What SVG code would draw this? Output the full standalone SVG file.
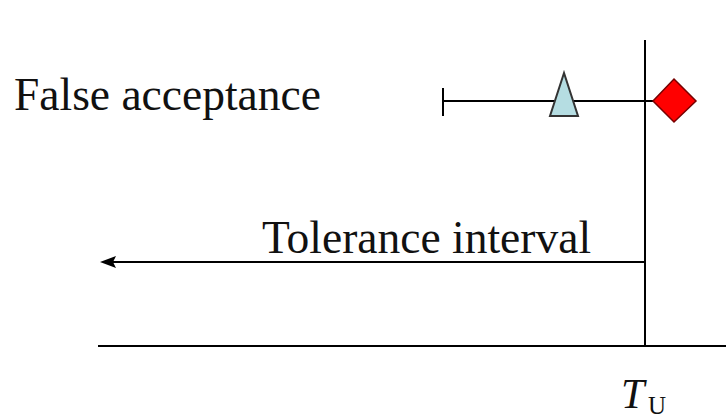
<svg xmlns="http://www.w3.org/2000/svg" width="726" height="419" viewBox="0 0 726 419">
<style>
.ln{stroke:#000;stroke-width:2;fill:none}
.t{font-family:"Liberation Serif","Times New Roman",serif;font-size:45.5px;fill:#111}
</style>
<rect width="726" height="419" fill="#fff"/>
<g id="connectors">
<line class="ln" x1="645" y1="40" x2="645" y2="346"/>
<line class="ln" x1="98" y1="346" x2="726" y2="346"/>
<line class="ln" x1="443" y1="101" x2="660" y2="101"/>
<line class="ln" x1="443" y1="88" x2="443" y2="116"/>
<line class="ln" x1="645" y1="262" x2="108" y2="262"/>
<polygon points="100,262 116,256 113,262 116,268" fill="#000"/>
</g>
<g id="false-acceptance">
<text class="t" x="14" y="110">False acceptance</text>
</g>
<g id="triangle">
<polygon points="564,73 550,116 578,116" fill="#b5dde2" stroke="#333" stroke-width="2"/>
</g>
<g id="diamond">
<polygon points="674,79 696,101 674,122 653,101" fill="#f00" stroke="#700" stroke-width="1.5"/>
</g>
<g id="tolerance">
<text class="t" x="262" y="253">Tolerance interval</text>
</g>
<g id="tu">
<text x="621" y="408" font-family="Liberation Serif, serif" font-style="italic" font-size="42" fill="#111">T</text>
<text x="648" y="414" font-family="Liberation Serif, serif" font-size="25" fill="#111">U</text>
</g>
</svg>
